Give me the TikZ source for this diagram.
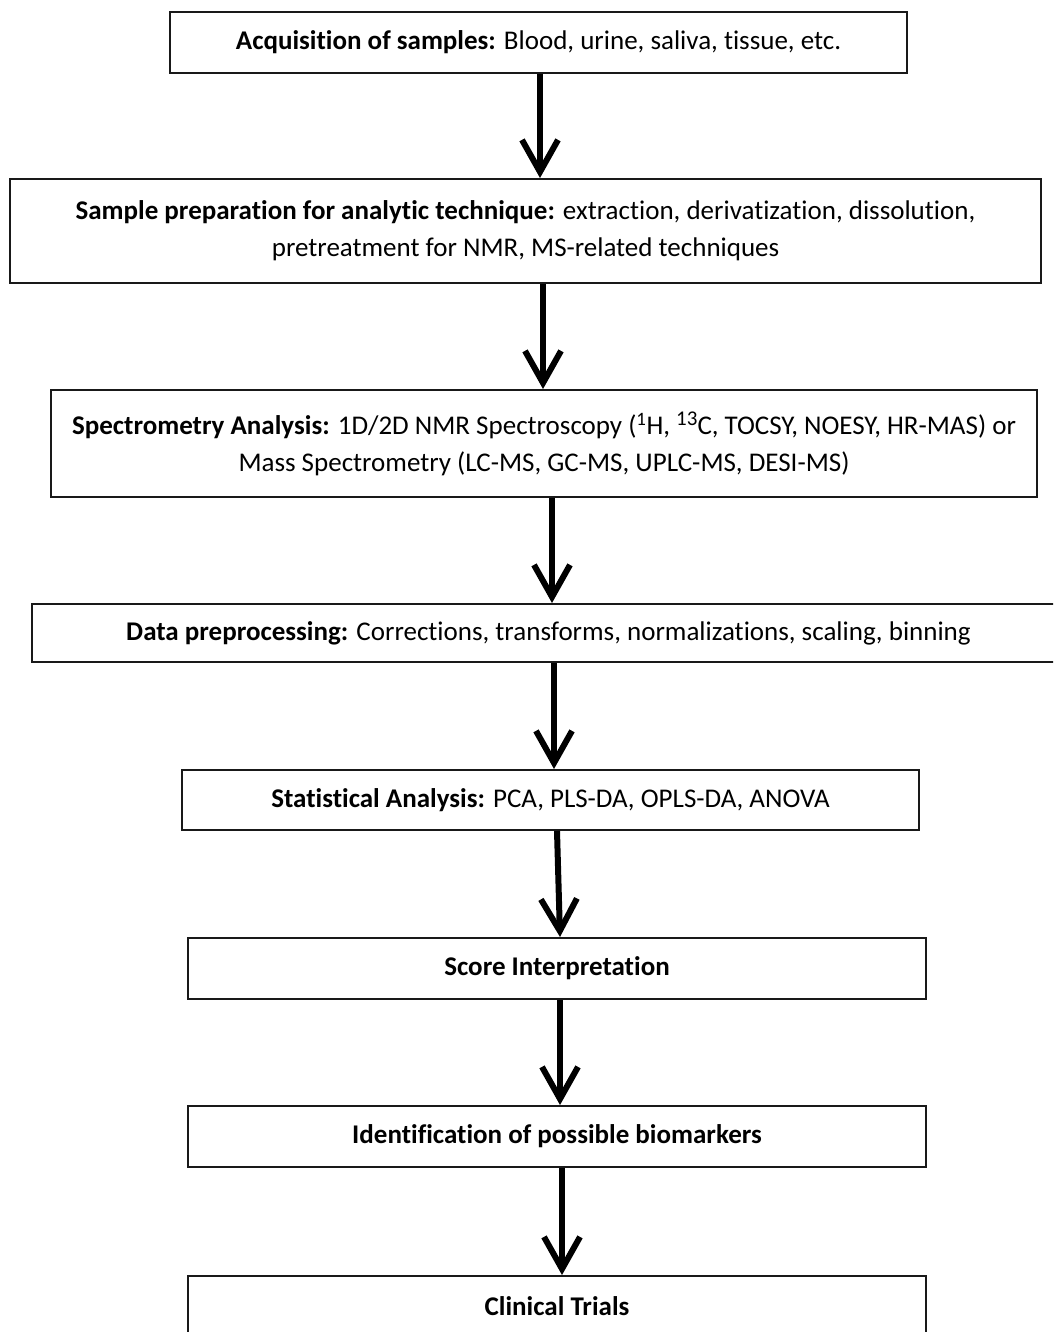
\documentclass[tikz,border=0pt]{standalone}
\usepackage{fontspec}
\setmainfont{Carlito}[Ligatures=NoCommon]
\usetikzlibrary{arrows.meta}
\begin{document}
\begin{tikzpicture}[x=1pt,y=-1pt,
  stagebox/.style={draw=black!90, line width=2pt, inner sep=0pt, align=center,
    font=\fontsize{27}{37}\selectfont},
  flowarrow/.style={line width=6pt, -{Straight Barb[length=32pt,width=36pt]}}]
\useasboundingbox (0,0) rectangle (1053,1332);
\clip (0,0) rectangle (1053,1332);
\node[stagebox, minimum width=737pt, minimum height=61pt] (b1) at (538.5,42.5)
  {\textbf{Acquisition of samples:} Blood, urine, saliva, tissue, etc.};
\node[stagebox, minimum width=1031pt, minimum height=104pt] (b2) at (525.5,231)
  {\textbf{Sample preparation for analytic technique:} extraction, derivatization, dissolution,\\
   pretreatment for NMR, MS-related techniques};
\node[stagebox, minimum width=986pt, minimum height=107pt] (b3) at (544,443.5)
  {\textbf{Spectrometry Analysis:} 1D/2D NMR Spectroscopy (\textsuperscript{1}H, \raisebox{9pt}{\fontsize{21}{21}\selectfont 13}C, TOCSY, NOESY, HR-MAS) or\\
   Mass Spectrometry (LC-MS, GC-MS, UPLC-MS, DESI-MS)};
\node[stagebox, minimum width=1033pt, minimum height=58pt] (b4) at (548.5,633)
  {\textbf{Data preprocessing:} Corrections, transforms, normalizations, scaling, binning};
\node[stagebox, minimum width=737pt, minimum height=60pt] (b5) at (550.5,800)
  {\textbf{Statistical Analysis:} PCA, PLS-DA, OPLS-DA, ANOVA};
\node[stagebox, minimum width=738pt, minimum height=61pt] (b6) at (557,968.5)
  {\textbf{Score Interpretation}};
\node[stagebox, minimum width=738pt, minimum height=61pt] (b7) at (557,1136.5)
  {\textbf{Identification of possible biomarkers}};
\node[stagebox, minimum width=738pt, minimum height=61pt] (b8) at (557,1306.5)
  {\textbf{Clinical Trials}};
\draw[flowarrow] ([xshift=1.5pt]b1.south) -- ([xshift=14.5pt]b2.north);
\draw[flowarrow] ([xshift=17.5pt]b2.south) -- ([xshift=-1pt]b3.north);
\draw[flowarrow] ([xshift=8pt]b3.south) -- ([xshift=3.5pt]b4.north);
\draw[flowarrow] ([xshift=5.5pt]b4.south) -- ([xshift=3.5pt]b5.north);
\draw[flowarrow] ([xshift=6.5pt]b5.south) -- ([xshift=3pt]b6.north);
\draw[flowarrow] ([xshift=3pt]b6.south) -- ([xshift=3pt]b7.north);
\draw[flowarrow] ([xshift=5pt]b7.south) -- ([xshift=5pt]b8.north);
\end{tikzpicture}
\end{document}
